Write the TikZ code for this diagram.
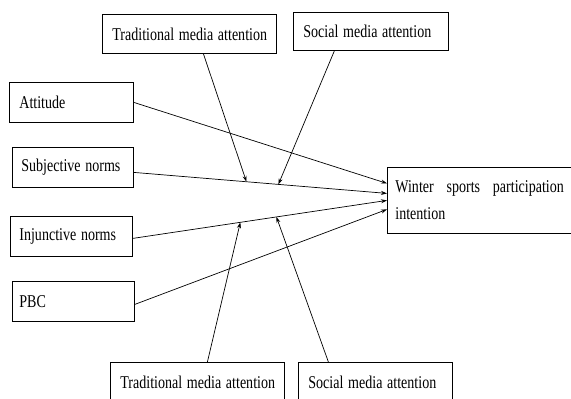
\documentclass[tikz,border=0pt]{standalone}
\usepackage{fontspec}
\setmainfont{Liberation Serif}
\usepackage{graphicx}
\usetikzlibrary{arrows.meta,calc}
\newcommand\nt[1]{\scalebox{0.78}[1]{#1}}
\tikzset{
  box/.style={draw, line width=0.8pt, rectangle, anchor=north west, inner ysep=0pt,
    align=left, font=\fontsize{18}{27}\selectfont},
  arr/.style={line width=0.7pt, -{Stealth[length=6pt,width=4pt]}}
}
\begin{document}
\begin{tikzpicture}[x=1pt,y=-1pt]
\useasboundingbox (0,0) rectangle (571,399);
% left predictors
\node[box, minimum width=124, minimum height=40, inner xsep=10pt, text width=104] (att) at (9,82) {\nt{Attitude}};
\node[box, minimum width=121, minimum height=40, inner xsep=9pt, text width=103] (subj) at (12,147) {\nt{Subjective norms}};
\node[box, minimum width=122, minimum height=40, inner xsep=9pt, text width=104] (inj) at (10,216) {\nt{Injunctive norms}};
\node[box, minimum width=122, minimum height=40, inner xsep=7pt, text width=108] (pbc) at (12,281) {\nt{PBC}};
% outcome
\node[box, minimum width=183.5, minimum height=66, inner xsep=8pt, text width=167.5] (win) at (387,167)
  {\nt{\makebox[216pt][l]{Winter\hfill sports\hfill participation}}\\\nt{intention}};
% moderators
\node[box, minimum width=174, minimum height=39, inner xsep=10pt, text width=154] (tt) at (102,14) {\nt{Traditional media attention}};
\node[box, minimum width=155, minimum height=38, inner xsep=10pt, text width=135] (st) at (293,12) {\nt{Social media attention}};
\node[box, minimum width=174, minimum height=40, inner xsep=10pt, text width=154] (tb) at (110,362) {\nt{Traditional media attention}};
\node[box, minimum width=154, minimum height=40, inner xsep=10pt, text width=134] (sb) at (298,362) {\nt{Social media attention}};
% main paths
\draw[arr] (att.east) -- ([yshift=17pt]win.west);
\draw[arr] ([yshift=-5pt]subj.east) -- coordinate[pos=0.445] (m1) coordinate[pos=0.571] (m2) ([yshift=7pt]win.west);
\draw[arr] ([yshift=-2pt]inj.east) -- coordinate[pos=0.423] (m3) coordinate[pos=0.565] (m4) ([yshift=0pt]win.west);
\draw[arr] ([yshift=-3pt]pbc.east) -- ([yshift=-9pt]win.west);
% moderating paths
\draw[arr] ([xshift=14pt]tt.south) -- (m1);
\draw[arr] ([xshift=-36.5pt]st.south) -- (m2);
\draw[arr] ([xshift=10pt]tb.north) -- (m3);
\draw[arr] ([xshift=-47pt]sb.north) -- (m4);
\end{tikzpicture}
\end{document}
